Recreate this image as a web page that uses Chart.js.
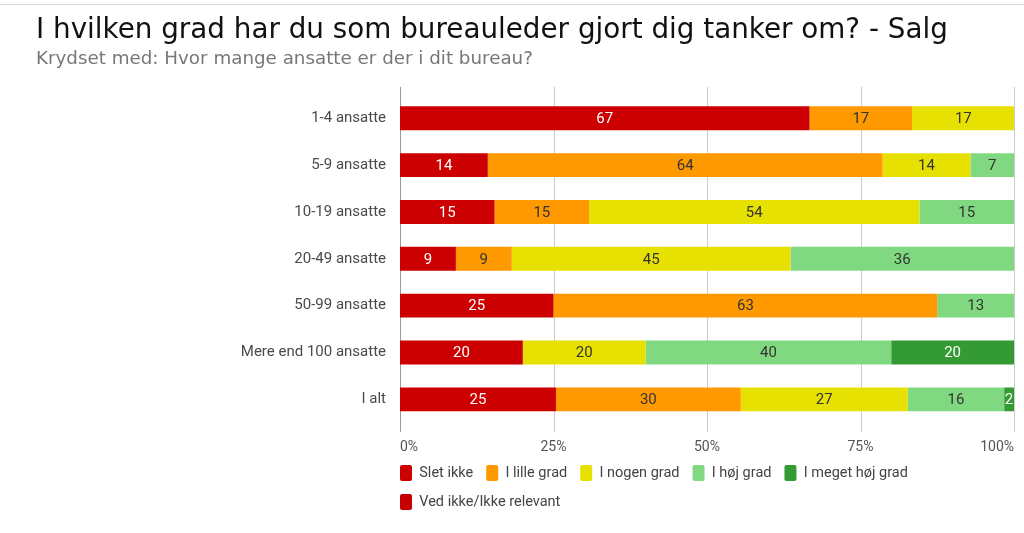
<!DOCTYPE html>
<html>
<head>
<meta charset="utf-8">
<script src="https://cdn.jsdelivr.net/npm/chart.js@4/dist/chart.umd.min.js"></script>
<style>
  html, body { margin: 0; padding: 0; background: #fff; }
  #wrap { position: relative; width: 1024px; height: 533px; }
  #topline { position: absolute; left: 0; top: 4px; width: 1024px; height: 1px; background: #d8d8d8; }
</style>
</head>
<body>
<div id="wrap">
  <div id="topline"></div>
  <canvas id="myChart" width="1024" height="533"></canvas>
</div>
<script>
// categories (rows)
const categories = ['1-4 ansatte', '5-9 ansatte', '10-19 ansatte', '20-49 ansatte',
    '50-99 ansatte', 'Mere end 100 ansatte', 'I alt'];

// series values, percent of each row
const sletIkke     = [66.7, 14.3, 15.4,  9.1, 25.0, 20.0, 25.4];
const lilleGrad    = [16.7, 64.3, 15.4,  9.1, 62.5,  0.0, 30.1];
const nogenGrad    = [16.7, 14.3, 53.8, 45.4,  0.0, 20.0, 27.2];
const hoejGrad     = [ 0.0,  7.1, 15.4, 36.4, 12.5, 40.0, 15.7];
const megetHoejGrad= [ 0.0,  0.0,  0.0,  0.0,  0.0, 20.0,  1.6];
const vedIkke      = [ 0.0,  0.0,  0.0,  0.0,  0.0,  0.0,  0.0];

// x axis tick values
const xTicks = [0, 25, 50, 75, 100];

const labelFont = "Roboto, 'Noto Sans', sans-serif";

// draw grid lines a bit longer than the plot area
const gridPlugin = {
    id: 'longGrid',
    beforeDatasetsDraw(chart) {
        const ctx = chart.ctx;
        const area = chart.chartArea;
        const x = chart.scales.x;
        ctx.save();
        xTicks.forEach(v => {
            const px = Math.round(x.getPixelForValue(v)) + 0.5;
            ctx.strokeStyle = v === 0 ? '#9a9a9a' : '#cccccc';
            ctx.lineWidth = 1;
            ctx.beginPath();
            ctx.moveTo(px, area.top - 8);
            ctx.lineTo(px, area.bottom + 9);
            ctx.stroke();
        });
        ctx.restore();
    }
};

// value labels inside the bars
const valuePlugin = {
    id: 'valueLabels',
    afterDatasetsDraw(chart) {
        const ctx = chart.ctx;
        ctx.save();
        ctx.font = '15px ' + labelFont;
        ctx.textAlign = 'center';
        ctx.textBaseline = 'middle';
        chart.data.datasets.forEach((ds, i) => {
            const meta = chart.getDatasetMeta(i);
            meta.data.forEach((bar, j) => {
                const v = ds.data[j];
                if (!v) return;
                ctx.fillStyle = ds.textColor;
                ctx.fillText(Math.round(v), (bar.x + bar.base) / 2, bar.y + 1);
            });
        });
        ctx.restore();
    }
};

// legend starts right at the plot's left edge, closer to the axis
const legendShift = {
    id: 'legendShift',
    afterLayout(chart) {
        const lg = chart.legend;
        lg.left -= 13;
        lg.right -= 13;
        lg.top -= 19.6;
        lg.bottom -= 19.6;
    }
};

const ctx = document.getElementById('myChart').getContext('2d');
new Chart(ctx, {
    type: 'bar',
    data: {
        labels: categories,
        datasets: [
            { label: 'Slet ikke', data: sletIkke, backgroundColor: '#cc0000', textColor: '#ffffff' },
            { label: 'I lille grad', data: lilleGrad, backgroundColor: '#ff9900', textColor: '#333333' },
            { label: 'I nogen grad', data: nogenGrad, backgroundColor: '#e6e100', textColor: '#333333' },
            { label: 'I høj grad', data: hoejGrad, backgroundColor: '#80d881', textColor: '#333333' },
            { label: 'I meget høj grad', data: megetHoejGrad, backgroundColor: '#349a34', textColor: '#ffffff' },
            { label: 'Ved ikke/Ikke relevant', data: vedIkke, backgroundColor: '#c40000', textColor: '#ffffff' }
        ]
    },
    options: {
        indexAxis: 'y',
        responsive: false,
        animation: false,
        devicePixelRatio: 1,
        barPercentage: 1,
        categoryPercentage: 0.51,
        layout: { padding: { left: 36, right: 10, top: 8, bottom: -6.6 } },
        scales: {
            x: {
                stacked: true,
                min: 0,
                max: 100,
                grid: { display: false, drawTicks: false },
                border: { display: false },
                ticks: {
                    stepSize: 25,
                    align: 'inner',
                    padding: 16,
                    color: '#555555',
                    font: { family: labelFont, size: 14 },
                    callback: v => v + '%'
                },
                afterFit(scale) { scale.paddingRight = 0; scale.paddingLeft = 0; }
            },
            y: {
                stacked: true,
                grid: { display: false, drawTicks: false },
                border: { display: false },
                ticks: {
                    padding: 14,
                    color: '#4a4a4a',
                    font: { family: labelFont, size: 15 }
                },
                afterFit(scale) { scale.width = 364; }
            }
        },
        plugins: {
            title: {
                display: true,
                text: 'I hvilken grad har du som bureauleder gjort dig tanker om? - Salg',
                align: 'start',
                color: '#111111',
                font: { family: "'DejaVu Sans', sans-serif", size: 27.8, weight: 'normal' },
                padding: { top: 6, bottom: 0 }
            },
            subtitle: {
                display: true,
                text: 'Krydset med: Hvor mange ansatte er der i dit bureau?',
                align: 'start',
                color: '#777777',
                font: { family: "'DejaVu Sans', sans-serif", size: 18.3 },
                padding: { top: 1, bottom: 24.5 }
            },
            legend: {
                position: 'bottom',
                align: 'start',
                fullSize: false,
                labels: {
                    boxWidth: 12,
                    boxHeight: 16,
                    useBorderRadius: true,
                    borderRadius: 2,
                    padding: 13,
                    color: '#444444',
                    font: { family: labelFont, size: 14.5 }
                }
            },
            tooltip: { enabled: false }
        }
    },
    plugins: [gridPlugin, valuePlugin, legendShift]
});
</script>
</body>
</html>
